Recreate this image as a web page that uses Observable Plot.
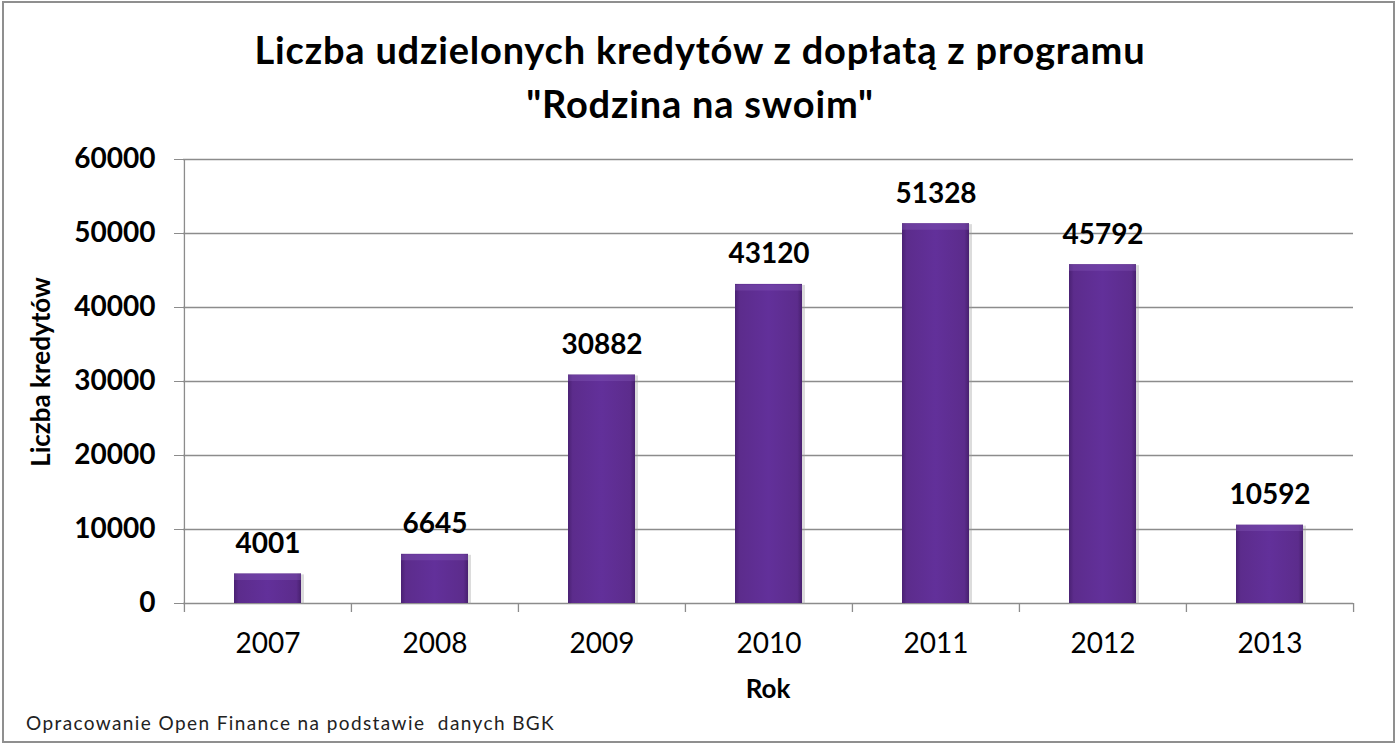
<!DOCTYPE html>
<html>
<head>
<meta charset="utf-8">
<script src="https://cdn.jsdelivr.net/npm/d3@7"></script>
<script src="https://cdn.jsdelivr.net/npm/@observablehq/plot@0.6"></script>
<style>
  html, body { margin: 0; padding: 0; background: #fff; }
  #wrap { position: relative; width: 1400px; height: 747px; overflow: hidden; font-family: Lato, "Open Sans", sans-serif; }
  #border { position: absolute; left: 2px; top: 1px; width: 1393px; height: 742px; border: 2px solid #8f8f8f; box-sizing: border-box; pointer-events: none; }
  #title { position: absolute; left: 0; top: 22px; width: 1400px; text-align: center; font-weight: bold; font-size: 38px; letter-spacing: 0.8px; line-height: 54px; color: #000; }
  #chart { position: absolute; left: 0; top: 140px; }
  #ylab { position: absolute; left: 40px; top: 372px; transform: translate(-50%, -50%) rotate(-90deg); white-space: nowrap; font-weight: bold; font-size: 26px; color: #000; }
  #xlab { position: absolute; left: 768px; top: 672px; transform: translateX(-50%); font-weight: bold; font-size: 26px; color: #000; }
  #caption { position: absolute; left: 26px; top: 711px; font-size: 19px; letter-spacing: 1.4px; color: #222; white-space: pre; }
</style>
</head>
<body>
<div id="wrap">
  <div id="title">Liczba udzielonych kredytów z dopłatą z programu<br>"Rodzina na swoim"</div>
  <div id="chart"></div>
  <div id="ylab">Liczba kredytów</div>
  <div id="xlab">Rok</div>
  <div id="caption">Opracowanie Open Finance na podstawie  danych BGK</div>
  <div id="border"></div>
</div>
<script>
const years = ["2007", "2008", "2009", "2010", "2011", "2012", "2013"];
const counts = [4001, 6645, 30882, 43120, 51328, 45792, 10592];
const yTicks = [0, 10000, 20000, 30000, 40000, 50000, 60000];

const data = years.map((y, i) => ({year: y, value: counts[i]}));

const W = 1400, H = 560;
const mL = 183, mR = 47, mT = 19, mB = 97;
const step = (W - mL - mR) / years.length;
const tickLen = 9 * 60000 / (H - mT - mB);

const grey = "#8c8c8c";

const chart = Plot.plot({
  width: W, height: H,
  marginLeft: mL, marginRight: mR, marginTop: mT, marginBottom: mB,
  style: {fontFamily: "Lato, 'Open Sans', sans-serif", background: "transparent", color: "#000", overflow: "visible"},
  x: {domain: years, paddingInner: 0.6, paddingOuter: 0.3, label: null},
  y: {domain: [0, 60000], label: null},
  marks: [
    Plot.ruleY(yTicks, {stroke: grey, strokeWidth: 1.3}),
    Plot.ruleX([years[0]], {y1: 0, y2: 60000, dx: -step / 2, stroke: grey, strokeWidth: 1.3}),
    Plot.ruleX(years, {y1: 0, y2: -tickLen, dx: -step / 2, stroke: grey, strokeWidth: 1.3}),
    Plot.ruleX([years[years.length - 1]], {y1: 0, y2: -tickLen, dx: step / 2, stroke: grey, strokeWidth: 1.3}),
    Plot.axisY({ticks: yTicks, tickSize: 9, tickPadding: 19, stroke: grey, fontSize: 28, fontWeight: "bold", tickFormat: d => String(d), label: null}),
    Plot.axisX({tickSize: 0, tickPadding: 30, fontSize: 28, label: null}),
    Plot.barY(data, {x: "year", y: "value", fill: "#9a9a9a", fillOpacity: 0.35, dx: 3, dy: 1}),
    Plot.barY(data, {x: "year", y: "value", fill: "url(#barGrad)"}),
    Plot.tickY(data, {x: "year", y: "value", dy: 3, strokeWidth: 6, stroke: "#8a5fbd", strokeOpacity: 0.35}),
    Plot.text(data, {x: "year", y: "value", text: d => String(d.value), dy: -21, lineAnchor: "bottom", fontSize: 28, fontWeight: "bold", fill: "#000"})
  ]
});

const ns = "http://www.w3.org/2000/svg";
const defs = document.createElementNS(ns, "defs");
const grad = document.createElementNS(ns, "linearGradient");
grad.setAttribute("id", "barGrad");
grad.setAttribute("x1", "0"); grad.setAttribute("x2", "1");
grad.setAttribute("y1", "0"); grad.setAttribute("y2", "0");
[["0%", "#4a2173"], ["7%", "#5c2c8c"], ["50%", "#62309a"], ["93%", "#5c2c8c"], ["100%", "#48206f"]].forEach(([o, c]) => {
  const s = document.createElementNS(ns, "stop");
  s.setAttribute("offset", o);
  s.setAttribute("stop-color", c);
  grad.appendChild(s);
});
defs.appendChild(grad);
chart.insertBefore(defs, chart.firstChild);

document.getElementById("chart").appendChild(chart);
</script>
</body>
</html>
